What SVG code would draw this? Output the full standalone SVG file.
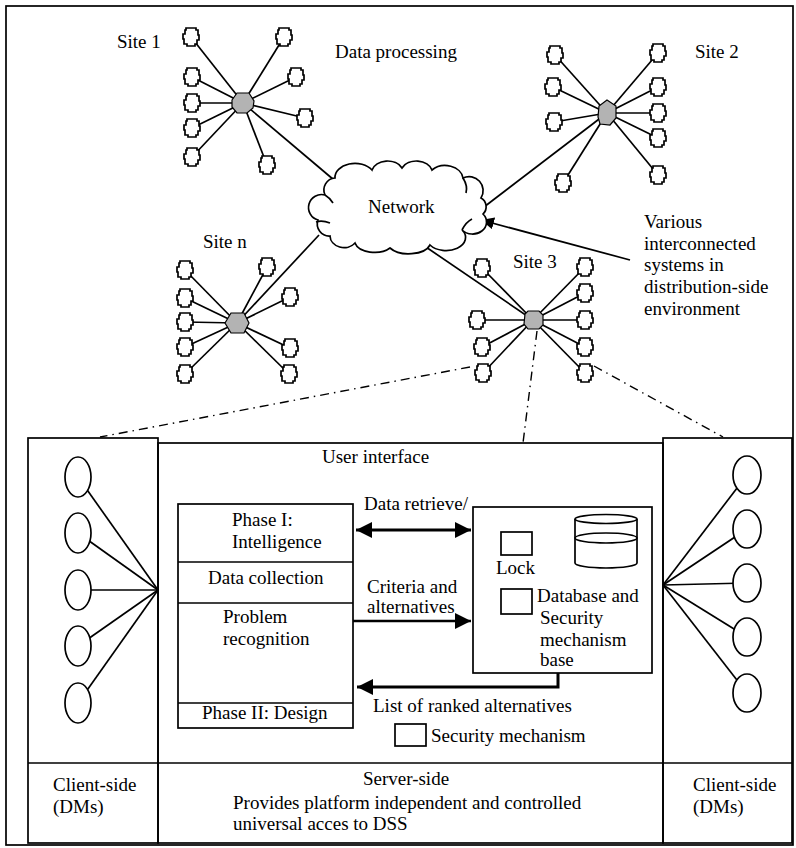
<svg xmlns="http://www.w3.org/2000/svg" width="796" height="848" viewBox="0 0 796 848">
<style>
text { font-family: "Liberation Serif", "Times New Roman", serif; font-size: 19px; fill: #000; }
.ln { stroke: #000; stroke-width: 1.7; fill: none; }
.sat { fill: #fff; stroke: #000; stroke-width: 1.7; }
.hub { fill: #b3b3b3; stroke: #000; stroke-width: 1.2; }
.box { fill: #fff; stroke: #000; stroke-width: 1.7; }
.nb { fill: none; stroke: #000; stroke-width: 1.7; }
.dd { stroke: #000; stroke-width: 1.4; stroke-dasharray: 9 5 1.5 5; fill: none; }
.thick { stroke: #000; stroke-width: 3; fill: none; }
.mid { stroke: #000; stroke-width: 2.4; fill: none; }
.ell { fill: #fff; stroke: #000; stroke-width: 1.7; }
</style>
<defs>
<path id="sat" class="sat" d="M-5,-9 H5 V-7 H7 V-2 H8 V3 H6 V7 H4 V9 H-4 V7 H-7 V2 H-8 V-3 H-6 V-7 H-5 Z"/>
<marker id="ah" markerUnits="userSpaceOnUse" markerWidth="17" markerHeight="16" refX="16" refY="8" orient="auto-start-reverse">
<path d="M0,0 L16,8 L0,16 Z" fill="#000"/>
</marker>
<marker id="ahs" markerUnits="userSpaceOnUse" markerWidth="14" markerHeight="12" refX="13" refY="6" orient="auto">
<path d="M0,0 L13,6 L0,12 Z" fill="#000"/>
</marker>
</defs>
<rect width="796" height="848" fill="#fff"/>
<rect id="frame" x="6" y="6" width="787" height="839" class="nb"/>

<g id="connectors">
<g class="ln">
<line x1="243" y1="103" x2="191" y2="37"/><line x1="243" y1="103" x2="284" y2="37"/>
<line x1="243" y1="103" x2="192" y2="77"/><line x1="243" y1="103" x2="296" y2="77"/>
<line x1="243" y1="103" x2="192" y2="103"/><line x1="243" y1="103" x2="192" y2="128"/>
<line x1="243" y1="103" x2="305" y2="118"/><line x1="243" y1="103" x2="192" y2="157"/>
<line x1="243" y1="103" x2="267" y2="165"/>
<line x1="607" y1="113" x2="555" y2="55"/><line x1="607" y1="113" x2="553" y2="87"/>
<line x1="607" y1="113" x2="554" y2="122"/><line x1="607" y1="113" x2="563" y2="183"/>
<line x1="607" y1="113" x2="658" y2="53"/><line x1="607" y1="113" x2="658" y2="87"/>
<line x1="607" y1="113" x2="658" y2="113"/><line x1="607" y1="113" x2="658" y2="138"/>
<line x1="607" y1="113" x2="658" y2="175"/>
<line x1="237" y1="323" x2="185" y2="270"/><line x1="237" y1="323" x2="185" y2="298"/>
<line x1="237" y1="323" x2="185" y2="322"/><line x1="237" y1="323" x2="185" y2="347"/>
<line x1="237" y1="323" x2="185" y2="374"/><line x1="237" y1="323" x2="267" y2="267"/>
<line x1="237" y1="323" x2="290" y2="297"/><line x1="237" y1="323" x2="290" y2="348"/>
<line x1="237" y1="323" x2="289" y2="374"/>
<line x1="533" y1="320" x2="482" y2="268"/><line x1="533" y1="320" x2="477" y2="320"/>
<line x1="533" y1="320" x2="482" y2="347"/><line x1="533" y1="320" x2="483" y2="373"/>
<line x1="533" y1="320" x2="585" y2="267"/><line x1="533" y1="320" x2="585" y2="293"/>
<line x1="533" y1="320" x2="585" y2="320"/><line x1="533" y1="320" x2="585" y2="347"/>
<line x1="533" y1="320" x2="585" y2="373"/>
<line x1="243" y1="103" x2="334" y2="180"/>
<line x1="607" y1="113" x2="484" y2="207"/>
<line x1="237" y1="323" x2="319" y2="235"/>
<line x1="423" y1="245" x2="533" y2="320"/>
<line x1="630" y1="260" x2="481" y2="220" marker-end="url(#ahs)"/>
<line x1="78" y1="477" x2="158" y2="590"/><line x1="78" y1="533" x2="158" y2="590"/>
<line x1="78" y1="590" x2="158" y2="590"/><line x1="78" y1="646" x2="158" y2="590"/>
<line x1="78" y1="703" x2="158" y2="590"/>
<line x1="747" y1="475" x2="663" y2="585"/><line x1="747" y1="529" x2="663" y2="585"/>
<line x1="747" y1="583" x2="663" y2="585"/><line x1="747" y1="637" x2="663" y2="585"/>
<line x1="747" y1="693" x2="663" y2="585"/>
</g>
<line class="dd" x1="470" y1="367" x2="100" y2="437"/>
<line class="dd" x1="537" y1="331" x2="523" y2="443"/>
<line class="dd" x1="594" y1="366" x2="723" y2="437"/>
</g>

<g id="site1">
<use href="#sat" x="191" y="37"/><use href="#sat" x="284" y="37"/>
<use href="#sat" x="192" y="77"/><use href="#sat" x="296" y="77"/>
<use href="#sat" x="192" y="103"/><use href="#sat" x="192" y="128"/>
<use href="#sat" x="305" y="118"/><use href="#sat" x="192" y="157"/>
<use href="#sat" x="267" y="165"/>
<polygon class="hub" points="232,100 237,93 249,93 254,101 253,108 247,113 237,113 232,107"/>
<text x="117" y="48">Site 1</text>
</g>
<text id="data-processing" x="335" y="58">Data processing</text>

<g id="site2">
<use href="#sat" x="555" y="55"/><use href="#sat" x="553" y="87"/>
<use href="#sat" x="554" y="122"/><use href="#sat" x="563" y="183"/>
<use href="#sat" x="658" y="53"/><use href="#sat" x="658" y="87"/>
<use href="#sat" x="658" y="113"/><use href="#sat" x="658" y="138"/>
<use href="#sat" x="658" y="175"/>
<polygon class="hub" points="607,100 616,106 616,118 610,125 600,124 598,117 599,106"/>
<text x="695" y="58">Site 2</text>
</g>

<g id="siten">
<use href="#sat" x="185" y="270"/><use href="#sat" x="185" y="298"/>
<use href="#sat" x="185" y="322"/><use href="#sat" x="185" y="347"/>
<use href="#sat" x="185" y="374"/><use href="#sat" x="267" y="267"/>
<use href="#sat" x="290" y="297"/><use href="#sat" x="290" y="348"/>
<use href="#sat" x="289" y="374"/>
<polygon class="hub" points="225,323 231,313 244,313 249,323 244,333 231,333"/>
<text x="203" y="248">Site n</text>
</g>

<g id="site3">
<use href="#sat" x="482" y="268"/><use href="#sat" x="477" y="320"/>
<use href="#sat" x="482" y="347"/><use href="#sat" x="483" y="373"/>
<use href="#sat" x="585" y="267"/><use href="#sat" x="585" y="293"/>
<use href="#sat" x="585" y="320"/><use href="#sat" x="585" y="347"/>
<use href="#sat" x="585" y="373"/>
<polygon class="hub" points="525,314 528,311 539,311 543,315 543,325 539,329 528,329 524,324"/>
<text x="513" y="268">Site 3</text>
</g>

<g id="network">
<path class="box" d="M325,195 A12,12 0 0 1 335,178 A20,14 0 0 1 372,170 A16,12 0 0 1 402,168 A16,12 0 0 1 432,170 A18,14 0 0 1 463,178 A14,14 0 0 1 481,198 A10,10 0 0 1 483,214 A14,12 0 0 1 462,230 A18,12 0 0 1 430,245 A22,12 0 0 1 390,248 A20,12 0 0 1 355,243 A14,12 0 0 1 330,236 A12,12 0 0 1 318,220 A12,12 0 0 1 325,195 Z"/>
<path class="nb" d="M316,222 Q322,220 330,223 M325,195 Q330,198 333,203 M462,230 Q466,222 472,219 M463,178 Q468,186 466,193"/>
<text x="368" y="213">Network</text>
</g>

<g id="note">
<text x="644" y="228">Various</text>
<text x="644" y="250">interconnected</text>
<text x="644" y="271">systems in</text>
<text x="644" y="293">distribution-side</text>
<text x="644" y="315">environment</text>
</g>

<g id="client-left">
<rect class="nb" x="28" y="438" width="130" height="405"/>
<ellipse class="ell" cx="78" cy="477" rx="13" ry="20"/>
<ellipse class="ell" cx="78" cy="533" rx="13" ry="20"/>
<ellipse class="ell" cx="78" cy="590" rx="13" ry="20"/>
<ellipse class="ell" cx="78" cy="646" rx="13" ry="20"/>
<ellipse class="ell" cx="78" cy="703" rx="13" ry="20"/>
<text x="53" y="791">Client-side</text>
<text x="53" y="813">(DMs)</text>
</g>

<g id="server">
<rect class="nb" x="158" y="443" width="505" height="400"/>
<text x="322" y="463">User interface</text>
<text x="406" y="785" text-anchor="middle">Server-side</text>
<text x="233" y="809">Provides platform independent and controlled</text>
<text x="233" y="830">universal acces to DSS</text>
</g>

<line id="divider" class="nb" x1="28" y1="763" x2="792" y2="763"/>

<g id="client-right">
<rect class="nb" x="663" y="438" width="129" height="405"/>
<ellipse class="ell" cx="747" cy="475" rx="14" ry="19"/>
<ellipse class="ell" cx="747" cy="529" rx="14" ry="19"/>
<ellipse class="ell" cx="747" cy="583" rx="14" ry="19"/>
<ellipse class="ell" cx="747" cy="637" rx="14" ry="19"/>
<ellipse class="ell" cx="747" cy="693" rx="14" ry="19"/>
<text x="693" y="791">Client-side</text>
<text x="693" y="813">(DMs)</text>
</g>

<g id="phases">
<rect class="nb" x="178" y="504" width="175" height="224"/>
<line class="nb" x1="178" y1="562" x2="353" y2="562"/>
<line class="nb" x1="178" y1="603" x2="353" y2="603"/>
<line class="nb" x1="178" y1="703" x2="353" y2="703"/>
<text x="232" y="526">Phase I:</text>
<text x="232" y="548">Intelligence</text>
<text x="208" y="584">Data collection</text>
<text x="223" y="623">Problem</text>
<text x="223" y="645">recognition</text>
<text x="202" y="719">Phase II: Design</text>
</g>

<g id="database">
<rect class="nb" x="473" y="507" width="179" height="166"/>
<rect class="nb" x="501" y="532" width="31" height="23"/>
<text x="496" y="574">Lock</text>
<rect class="nb" x="501" y="589" width="31" height="25"/>
<text x="537" y="602">Database and</text>
<text x="540" y="624">Security</text>
<text x="540" y="646">mechanism</text>
<text x="540" y="666">base</text>
<path class="nb" d="M575,519 V563 A31,5 0 0 0 637,563 V519"/>
<ellipse class="nb" cx="606" cy="519" rx="31" ry="4.5"/>
<ellipse class="nb" cx="606" cy="538" rx="31" ry="5"/>
</g>

<g id="flows">
<line class="thick" x1="356" y1="530" x2="471" y2="530" marker-start="url(#ah)" marker-end="url(#ah)"/>
<text x="364" y="510">Data retrieve/</text>
<line class="mid" x1="353" y1="621" x2="471" y2="621" marker-end="url(#ah)"/>
<text x="367" y="593">Criteria and</text>
<text x="367" y="613">alternatives</text>
<path class="thick" d="M558,673 V687 H357" marker-end="url(#ah)"/>
<text x="373" y="712">List of ranked alternatives</text>
</g>

<g id="security-legend">
<rect class="nb" x="395" y="724" width="31" height="22"/>
<text x="431" y="742">Security mechanism</text>
</g>
</svg>
